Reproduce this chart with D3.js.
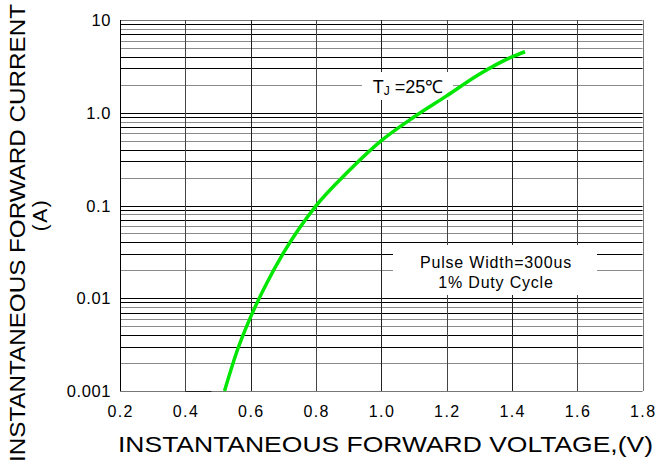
<!DOCTYPE html>
<html><head><meta charset="utf-8">
<script src="https://cdn.jsdelivr.net/npm/d3@7"></script>
<style>body{margin:0;background:#fff}svg{display:block}text{font-family:"Liberation Sans",Arial,sans-serif;fill:#000}</style>
</head><body><svg id="c" width="660" height="466"></svg>
<script>
const voltage = [0.52, 0.56, 0.6, 0.65, 0.7, 0.8, 0.9, 1.0, 1.1, 1.2, 1.3, 1.4, 1.44];
const current = [0.001, 0.0028, 0.0063, 0.0147, 0.0306, 0.099, 0.235, 0.5, 0.9, 1.52, 2.6, 4.0, 4.55];
const xTicks = [0.2, 0.4, 0.6, 0.8, 1.0, 1.2, 1.4, 1.6, 1.8];
const xTickLabels = ["0.2","0.4","0.6","0.8","1.0","1.2","1.4","1.6","1.8"];
const yTicks = [0.001, 0.01, 0.1, 1, 10];
const yTickLabels = ["0.001","0.01","0.1","1.0","10"];
const decades = [0.001, 0.01, 0.1, 1];
const minorMult = [1,2,3,4,5,6,7,8,9];

const svg = d3.select("#c");
const x = d3.scaleLinear().domain([0.2, 1.8]).range([120, 642.6]);
const y = d3.scaleLog().domain([0.001, 10]).range([391, 20]);

const gray = "#8a8a8a", dark = "#000";
const multColor = {1:dark,2:gray,3:dark,4:dark,5:gray,6:gray,7:dark,8:gray,9:dark};
const px = v => Math.round(v) + 0.5;

const grid = svg.append("g");
decades.forEach(d => minorMult.forEach(k => {
  const v = d * k;
  grid.append("line").attr("x1", x(0.2)).attr("x2", x(1.8))
    .attr("y1", px(y(v))).attr("y2", px(y(v)))
    .attr("stroke", d === 0.001 && k === 1 ? "#777" : multColor[k]).attr("stroke-width", 1);
}));
grid.append("line").attr("x1", x(0.2)).attr("x2", x(1.8)).attr("y1", px(y(10))).attr("y2", px(y(10))).attr("stroke", "#777");
grid.append("line").attr("x1", x(0.4)).attr("x2", x(0.48)).attr("y1", px(y(0.001))).attr("y2", px(y(0.001))).attr("stroke", "#222");
xTicks.forEach((v, i) => {
  grid.append("line").attr("x1", px(x(v))).attr("x2", px(x(v)))
    .attr("y1", y(10)).attr("y2", y(0.001))
    .attr("stroke", i === 0 ? "#000" : (i === xTicks.length - 1 ? "#777" : (i % 2 ? "#444" : "#222")))
    .attr("stroke-width", 1);
});

svg.append("rect").attr("x", 362).attr("y", 72).attr("width", 91).attr("height", 28).attr("fill", "#fff");
svg.append("rect").attr("x", 393).attr("y", 245).attr("width", 204).attr("height", 50).attr("fill", "#fff");

const line = d3.line().x(d => x(d[0])).y(d => y(d[1])).curve(d3.curveMonotoneX);
svg.append("path").datum(voltage.map((v, i) => [v, current[i]]))
  .attr("d", line).attr("fill", "none").attr("stroke", "#00e600").attr("stroke-width", 3.5);

svg.append("g").selectAll("text").data(xTicks).join("text")
  .attr("x", d => x(d) + 0.7).attr("y", 417).attr("text-anchor", "middle")
  .attr("font-size", 16).attr("letter-spacing", 1.4).text((d, i) => xTickLabels[i]);
svg.append("g").selectAll("text").data(yTicks).join("text")
  .attr("x", 111).attr("y", d => y(d) + 6).attr("text-anchor", "end")
  .attr("font-size", 16.5).attr("letter-spacing", 0.6).text((d, i) => yTickLabels[i]);

const tj = svg.append("text").attr("x", 408).attr("y", 93).attr("text-anchor", "middle").attr("font-size", 18);
tj.append("tspan").text("T");
tj.append("tspan").attr("font-size", 12).attr("dy", 2).text("J");
tj.append("tspan").attr("dy", -2).text(" =25℃");
svg.append("text").attr("x", 496).attr("y", 268).attr("text-anchor", "middle").attr("font-size", 16).attr("letter-spacing", 0.8).text("Pulse Width=300us");
svg.append("text").attr("x", 496).attr("y", 288).attr("text-anchor", "middle").attr("font-size", 16).attr("letter-spacing", 0.8).text("1% Duty Cycle");

svg.append("text").attr("x", 118).attr("y", 452).attr("font-size", 22)
  .attr("textLength", 535).attr("lengthAdjust", "spacingAndGlyphs")
  .text("INSTANTANEOUS FORWARD VOLTAGE,(V)");
svg.append("text").attr("transform", "translate(25,462) rotate(-90)").attr("font-size", 22)
  .attr("textLength", 458).attr("lengthAdjust", "spacingAndGlyphs")
  .text("INSTANTANEOUS FORWARD CURRENT");
svg.append("text").attr("transform", "translate(47,215) rotate(-90)").attr("text-anchor", "middle").attr("font-size", 21)
  .attr("letter-spacing", 1.5).text("(A)");
</script></body></html>
